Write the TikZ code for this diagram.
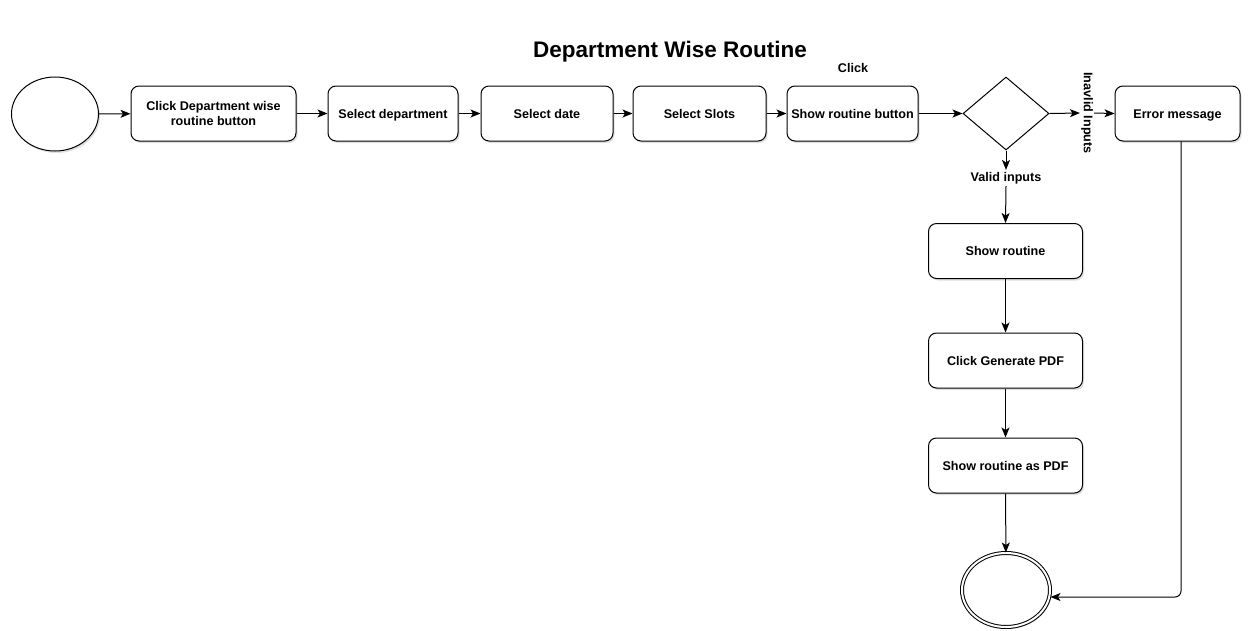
\documentclass[tikz,border=0pt]{standalone}
\usepackage{fontspec}
\setmainfont{Liberation Sans}
\usetikzlibrary{shapes.geometric,arrows.meta,shadows}
\begin{document}
\begin{tikzpicture}[x=1pt,y=-1pt,
  every node/.style={font=\bfseries\fontsize{12.6}{15}\selectfont},
  flowbox/.style={draw, line width=1pt, rounded corners=8pt, fill=white,
    align=center, minimum height=55, inner sep=2pt,
    drop shadow={opacity=0.25, shadow xshift=1.5pt, shadow yshift=-2pt}},
  oneline/.style={text height=9.2pt, text depth=0pt},
  terminal/.style={draw, ellipse, line width=1pt, fill=white, inner sep=0pt,
    drop shadow={opacity=0.25, shadow xshift=1.5pt, shadow yshift=-2pt}},
  decision/.style={draw, diamond, line width=1pt, fill=white, inner sep=0pt,
    minimum width=86, minimum height=73},
  lbl/.style={inner sep=2pt},
  arr/.style={-{Stealth[length=10pt,width=8pt,inset=2.5pt]}, line width=1pt}]
\useasboundingbox (0,0) rectangle (1248,630);

% title
\node[font=\bfseries\fontsize{22.5}{26}\selectfont, text height=16pt, text depth=0pt] (title) at (670,49) {Department Wise Routine};

% main row
\node[terminal, minimum width=87, minimum height=74] (start) at (55,114) {};
\node[flowbox, minimum width=165] (b1) at (213.5,113.5) {Click Department wise\\routine button};
\node[flowbox, oneline, minimum width=130] (b2) at (393,113.5) {Select department};
\node[flowbox, oneline, minimum width=132] (b3) at (547,113.5) {Select date};
\node[flowbox, oneline, minimum width=133] (b4) at (699.5,113.5) {Select Slots};
\node[flowbox, oneline, minimum width=131] (b5) at (852.5,113.5) {Show routine button};
\node[lbl] (click) at (853,68) {Click};
\node[decision] (dia) at (1006,113.5) {};
\node[lbl, rotate=-90, inner sep=1pt] (inv) at (1087,113) {Inavlid Inputs};
\node[flowbox, oneline, minimum width=125] (err) at (1177.5,113.5) {Error message};

% vertical column
\node[lbl] (valid) at (1006,178) {Valid inputs};
\node[flowbox, oneline, minimum width=154] (sr) at (1005.5,251) {Show routine};
\node[flowbox, oneline, minimum width=154] (cg) at (1005.5,360.5) {Click Generate PDF};
\node[flowbox, oneline, minimum width=154] (srp) at (1005.5,465.5) {Show routine as PDF};
\node[terminal, double, double distance=2pt, minimum width=88, minimum height=74] (end) at (1006,590) {};

% connectors
\draw[arr] (start) -- (b1);
\draw[arr] (b1) -- (b2);
\draw[arr] (b2) -- (b3);
\draw[arr] (b3) -- (b4);
\draw[arr] (b4) -- (b5);
\draw[arr] (b5) -- (dia);
\draw[arr] (dia.east) -- (inv.south);
\draw[arr] (inv.north) -- (err.west);
\draw[arr] (dia.south) -- (valid.north);
\draw[arr] (valid.south) -- (sr.north);
\draw[arr] (sr) -- (cg);
\draw[arr] (cg) -- (srp);
\draw[arr] (srp) -- (end);
\draw[arr, rounded corners=6pt] (err.south -| 1181,0) -- (1181,597) -- (end.east |- 0,597);
\end{tikzpicture}
\end{document}
